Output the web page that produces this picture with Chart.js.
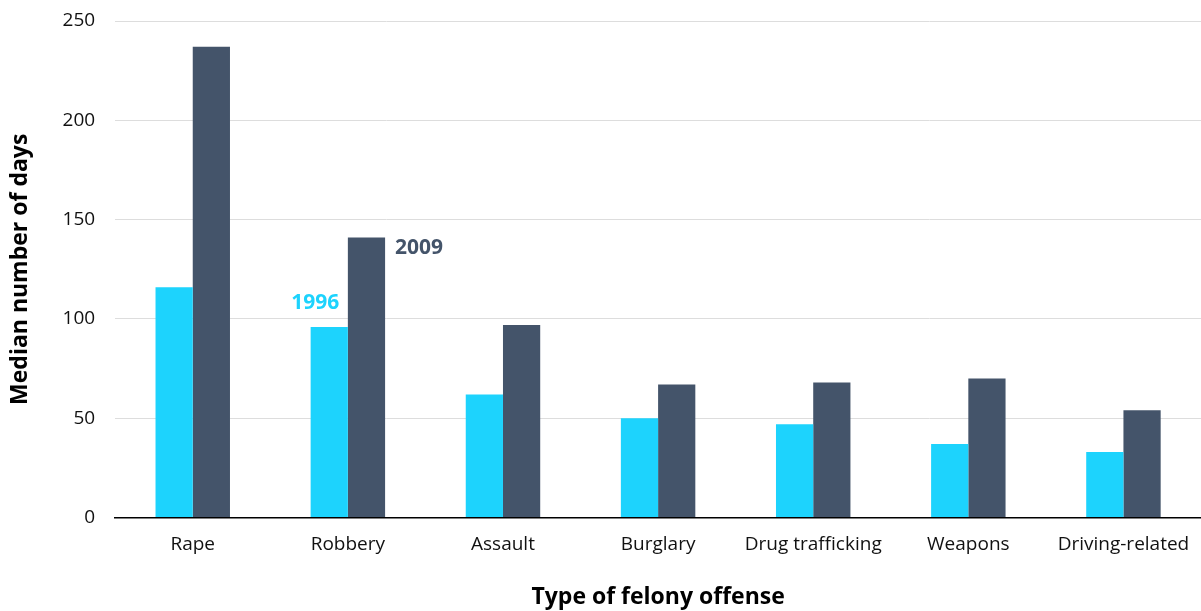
<!DOCTYPE html>
<html>
<head>
<meta charset="utf-8">
<script src="https://cdn.jsdelivr.net/npm/chart.js@4/dist/chart.umd.min.js"></script>
<style>
  html, body { margin: 0; padding: 0; background: #fff; }
  #wrap { width: 1201px; height: 611px; }
</style>
</head>
<body>
<div id="wrap"><canvas id="barChart"></canvas></div>
<script>
var categories = ["Rape", "Robbery", "Assault", "Burglary", "Drug trafficking", "Weapons", "Driving-related"];
var values1996 = [116, 96, 62, 50, 47, 37, 33];
var values2009 = [237, 141, 97, 67, 68, 70, 54];
var yTicks = [0, 50, 100, 150, 200, 250];

var CYAN = '#1dd3fd';
var SLATE = '#44546a';
var FONT = "'Open Sans', 'Noto Sans', sans-serif";

// year labels drawn beside the Robbery bars
var yearLabels = {
    id: 'yearLabels',
    afterDatasetsDraw: function (chart) {
        var ctx = chart.ctx;
        var b1 = chart.getDatasetMeta(0).data[1];
        var b2 = chart.getDatasetMeta(1).data[1];
        ctx.save();
        ctx.font = "bold 21px " + FONT;
        ctx.textBaseline = 'middle';
        ctx.fillStyle = CYAN;
        ctx.textAlign = 'right';
        ctx.fillText(chart.data.datasets[0].label, b1.x + 10, b1.y - 24);
        ctx.fillStyle = SLATE;
        ctx.textAlign = 'left';
        ctx.fillText(chart.data.datasets[1].label, b2.x + b2.width / 2 + 10, b2.y + 10);
        ctx.restore();
    }
};

let barChart = new Chart(document.getElementById('barChart'), {
    type: 'bar',
    data: {
        labels: categories,
        datasets: [{
            label: '1996',
            backgroundColor: CYAN,
            data: values1996
        }, {
            label: '2009',
            backgroundColor: SLATE,
            data: values2009
        }]
    },
    options: {
        responsive: true,
        maintainAspectRatio: false,
        animation: false,
        categoryPercentage: 0.48,
        barPercentage: 1.0,
        layout: { padding: { top: 21, right: 0, left: 7, bottom: 0 } },
        plugins: {
            legend: { display: false },
            tooltip: { enabled: false }
        },
        scales: {
            x: {
                grid: { display: false },
                border: { display: true, color: '#000', width: 1.5 },
                ticks: { color: '#111', font: { family: FONT, size: 19 }, padding: 8 },
                title: {
                    display: true,
                    text: 'Type of felony offense',
                    color: '#000',
                    font: { family: FONT, size: 23, weight: 'bold' },
                    padding: { top: 19, bottom: 0 }
                }
            },
            y: {
                min: 0,
                max: 250,
                afterBuildTicks: function (axis) {
                    axis.ticks = yTicks.map(function (v) { return { value: v }; });
                },
                afterFit: function (axis) {
                    axis.paddingTop = 0;
                    axis.paddingBottom = 0;
                },
                grid: { color: '#dddddd', lineWidth: 1, drawTicks: false },
                border: { display: false },
                ticks: { color: '#111', font: { family: FONT, size: 19 }, padding: 20 },
                title: {
                    display: true,
                    text: 'Median number of days',
                    color: '#000',
                    font: { family: FONT, size: 23, weight: 'bold' },
                    padding: { top: 0, bottom: 8 }
                }
            }
        }
    },
    plugins: [yearLabels]
});
</script>
</body>
</html>
